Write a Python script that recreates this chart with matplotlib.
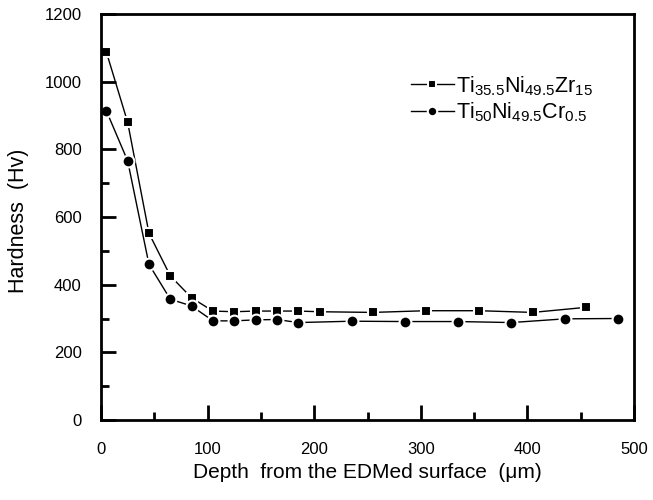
import numpy as np
import matplotlib
matplotlib.use('Agg')
import matplotlib.pyplot as plt
from matplotlib.ticker import MultipleLocator

plt.rcParams["font.family"] = ["Liberation Sans", "DejaVu Sans"]
plt.rcParams["mathtext.default"] = "regular"

# Ti35.5Ni49.5Zr15 (squares)
depth_zr = [5, 25, 45, 65, 85, 105, 125, 145, 165, 185, 205, 255, 305, 355, 405, 455]
hv_zr = [1088, 880, 552, 426, 361, 322, 320, 322, 322, 322, 320, 318, 323, 323, 318, 333]

# Ti50Ni49.5Cr0.5 (circles)
depth_cr = [5, 25, 45, 65, 85, 105, 125, 145, 165, 185, 235, 285, 335, 385, 435, 485]
hv_cr = [914, 766, 460, 357, 337, 293, 293, 296, 297, 288, 292, 291, 291, 288, 299, 300]

fig = plt.figure(figsize=(6.53, 5.0), dpi=100)
ax = fig.add_axes([101/653, 1 - 420/500, 533/653, 406/500])

ax.plot(depth_zr, hv_zr, color='black', lw=1, marker='s', markersize=7.5,
        markerfacecolor='black', markeredgecolor='white', markeredgewidth=1.5,
        label='Ti$_{35.5}$Ni$_{49.5}$Zr$_{15}$')
ax.plot(depth_cr, hv_cr, color='black', lw=1, marker='o', markersize=8.5,
        markerfacecolor='black', markeredgecolor='white', markeredgewidth=1.5,
        label='Ti$_{50}$Ni$_{49.5}$Cr$_{0.5}$')

ax.set_xlim(0, 500)
ax.set_ylim(0, 1200)
ax.xaxis.set_major_locator(MultipleLocator(100))
ax.xaxis.set_minor_locator(MultipleLocator(50))
ax.yaxis.set_major_locator(MultipleLocator(200))
ax.yaxis.set_minor_locator(MultipleLocator(100))
ax.tick_params(which='both', direction='in', width=2, labelsize=12, top=False, right=False)
ax.tick_params(which='major', length=11)
ax.tick_params(which='minor', length=6)
ax.tick_params(axis='x', which='major', pad=16)
ax.tick_params(axis='y', which='major', pad=14)
for s in ax.spines.values():
    s.set_linewidth(2)

ax.set_xlabel('Depth  from the EDMed surface  (\u03bcm)', fontsize=15)
ax.set_ylabel('Hardness  (Hv)', fontsize=15.5)
ax.xaxis.set_label_coords(0.5, -0.105)
ax.yaxis.set_label_coords(-0.135, 0.49)

leg = ax.legend(loc='upper left', bbox_to_anchor=(0.545, 0.90), frameon=False,
                fontsize=15.5, handlelength=2.0, handletextpad=0.1,
                labelspacing=0.15, markerscale=0.8)

fig.savefig('out.png', dpi=100)
